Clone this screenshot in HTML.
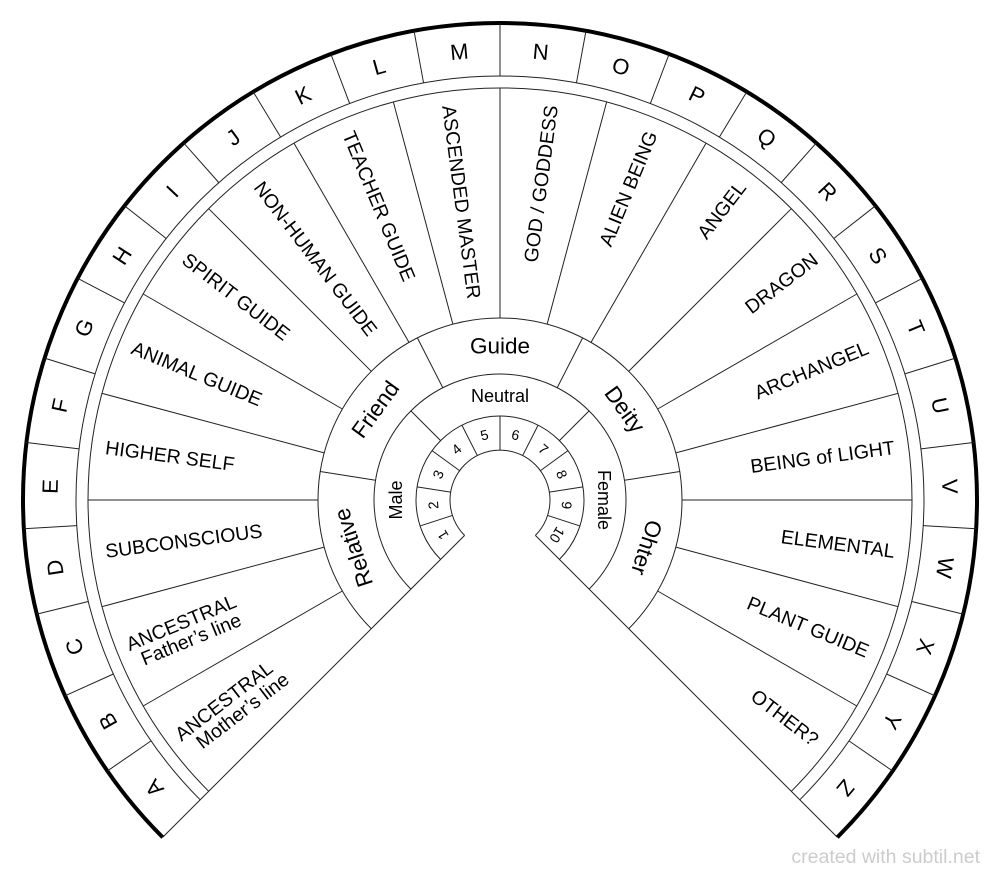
<!DOCTYPE html>
<html><head><meta charset="utf-8"><style>
html,body{margin:0;padding:0;background:#fff;width:1000px;height:877px;overflow:hidden}
svg{display:block}
text{font-family:"Liberation Sans",sans-serif;fill:#000}
</style></head><body>
<svg width="1000" height="877" viewBox="0 0 1000 877" xmlns="http://www.w3.org/2000/svg">
<g fill="none" stroke="#222" stroke-width="1">
<path d="M162.7 837.3 A477 477 0 1 1 837.3 837.3" stroke="#000" stroke-width="4"/>
<path d="M200.2 799.8 A424 424 0 1 1 799.8 799.8"/>
<path d="M208.7 791.3 A412 412 0 1 1 791.3 791.3"/>
<path d="M371.3 628.7 A182 182 0 1 1 628.7 628.7"/>
<path d="M410.9 589.1 A126 126 0 1 1 589.1 589.1"/>
<path d="M440.6 559.4 A84 84 0 1 1 559.4 559.4"/>
<path d="M464.6 535.4 A50 50 0 1 1 535.4 535.4"/>
<line x1="500" y1="450" x2="500" y2="23" transform="rotate(-135 500 500)"/>
<line x1="500" y1="450" x2="500" y2="23" transform="rotate(135 500 500)"/>
<g>
<line x1="500" y1="76" x2="500" y2="23" transform="rotate(-124.615 500 500)"/>
<line x1="500" y1="76" x2="500" y2="23" transform="rotate(-114.231 500 500)"/>
<line x1="500" y1="76" x2="500" y2="23" transform="rotate(-103.846 500 500)"/>
<line x1="500" y1="76" x2="500" y2="23" transform="rotate(-93.462 500 500)"/>
<line x1="500" y1="76" x2="500" y2="23" transform="rotate(-83.077 500 500)"/>
<line x1="500" y1="76" x2="500" y2="23" transform="rotate(-72.692 500 500)"/>
<line x1="500" y1="76" x2="500" y2="23" transform="rotate(-62.308 500 500)"/>
<line x1="500" y1="76" x2="500" y2="23" transform="rotate(-51.923 500 500)"/>
<line x1="500" y1="76" x2="500" y2="23" transform="rotate(-41.538 500 500)"/>
<line x1="500" y1="76" x2="500" y2="23" transform="rotate(-31.154 500 500)"/>
<line x1="500" y1="76" x2="500" y2="23" transform="rotate(-20.769 500 500)"/>
<line x1="500" y1="76" x2="500" y2="23" transform="rotate(-10.385 500 500)"/>
<line x1="500" y1="76" x2="500" y2="23"/>
<line x1="500" y1="76" x2="500" y2="23" transform="rotate(10.385 500 500)"/>
<line x1="500" y1="76" x2="500" y2="23" transform="rotate(20.769 500 500)"/>
<line x1="500" y1="76" x2="500" y2="23" transform="rotate(31.154 500 500)"/>
<line x1="500" y1="76" x2="500" y2="23" transform="rotate(41.538 500 500)"/>
<line x1="500" y1="76" x2="500" y2="23" transform="rotate(51.923 500 500)"/>
<line x1="500" y1="76" x2="500" y2="23" transform="rotate(62.308 500 500)"/>
<line x1="500" y1="76" x2="500" y2="23" transform="rotate(72.692 500 500)"/>
<line x1="500" y1="76" x2="500" y2="23" transform="rotate(83.077 500 500)"/>
<line x1="500" y1="76" x2="500" y2="23" transform="rotate(93.462 500 500)"/>
<line x1="500" y1="76" x2="500" y2="23" transform="rotate(103.846 500 500)"/>
<line x1="500" y1="76" x2="500" y2="23" transform="rotate(114.231 500 500)"/>
<line x1="500" y1="76" x2="500" y2="23" transform="rotate(124.615 500 500)"/>
</g>
<g>
<line x1="500" y1="318" x2="500" y2="88" transform="rotate(-120 500 500)"/>
<line x1="500" y1="318" x2="500" y2="88" transform="rotate(-105 500 500)"/>
<line x1="500" y1="318" x2="500" y2="88" transform="rotate(-90 500 500)"/>
<line x1="500" y1="318" x2="500" y2="88" transform="rotate(-75 500 500)"/>
<line x1="500" y1="318" x2="500" y2="88" transform="rotate(-60 500 500)"/>
<line x1="500" y1="318" x2="500" y2="88" transform="rotate(-45 500 500)"/>
<line x1="500" y1="318" x2="500" y2="88" transform="rotate(-30 500 500)"/>
<line x1="500" y1="318" x2="500" y2="88" transform="rotate(-15 500 500)"/>
<line x1="500" y1="318" x2="500" y2="88"/>
<line x1="500" y1="318" x2="500" y2="88" transform="rotate(15 500 500)"/>
<line x1="500" y1="318" x2="500" y2="88" transform="rotate(30 500 500)"/>
<line x1="500" y1="318" x2="500" y2="88" transform="rotate(45 500 500)"/>
<line x1="500" y1="318" x2="500" y2="88" transform="rotate(60 500 500)"/>
<line x1="500" y1="318" x2="500" y2="88" transform="rotate(75 500 500)"/>
<line x1="500" y1="318" x2="500" y2="88" transform="rotate(90 500 500)"/>
<line x1="500" y1="318" x2="500" y2="88" transform="rotate(105 500 500)"/>
<line x1="500" y1="318" x2="500" y2="88" transform="rotate(120 500 500)"/>
</g>
<line x1="500" y1="374" x2="500" y2="318" transform="rotate(-81 500 500)"/>
<line x1="500" y1="374" x2="500" y2="318" transform="rotate(-27 500 500)"/>
<line x1="500" y1="374" x2="500" y2="318" transform="rotate(27 500 500)"/>
<line x1="500" y1="374" x2="500" y2="318" transform="rotate(81 500 500)"/>
<line x1="500" y1="416" x2="500" y2="374" transform="rotate(-45 500 500)"/>
<line x1="500" y1="416" x2="500" y2="374" transform="rotate(45 500 500)"/>
<g>
<line x1="500" y1="450" x2="500" y2="416" transform="rotate(-108 500 500)"/>
<line x1="500" y1="450" x2="500" y2="416" transform="rotate(-81 500 500)"/>
<line x1="500" y1="450" x2="500" y2="416" transform="rotate(-54 500 500)"/>
<line x1="500" y1="450" x2="500" y2="416" transform="rotate(-27 500 500)"/>
<line x1="500" y1="450" x2="500" y2="416"/>
<line x1="500" y1="450" x2="500" y2="416" transform="rotate(27 500 500)"/>
<line x1="500" y1="450" x2="500" y2="416" transform="rotate(54 500 500)"/>
<line x1="500" y1="450" x2="500" y2="416" transform="rotate(81 500 500)"/>
<line x1="500" y1="450" x2="500" y2="416" transform="rotate(108 500 500)"/>
</g>
</g>

<g font-size="22" text-anchor="middle" dominant-baseline="central">
<text x="500" y="50" transform="rotate(-129.81 500 500)">A</text>
<text x="500" y="50" transform="rotate(-119.42 500 500)">B</text>
<text x="500" y="50" transform="rotate(-109.04 500 500)">C</text>
<text x="500" y="50" transform="rotate(-98.65 500 500)">D</text>
<text x="500" y="50" transform="rotate(-88.27 500 500)">E</text>
<text x="500" y="50" transform="rotate(-77.88 500 500)">F</text>
<text x="500" y="50" transform="rotate(-67.5 500 500)">G</text>
<text x="500" y="50" transform="rotate(-57.12 500 500)">H</text>
<text x="500" y="50" transform="rotate(-46.73 500 500)">I</text>
<text x="500" y="50" transform="rotate(-36.35 500 500)">J</text>
<text x="500" y="50" transform="rotate(-25.96 500 500)">K</text>
<text x="500" y="50" transform="rotate(-15.58 500 500)">L</text>
<text x="500" y="50" transform="rotate(-5.19 500 500)">M</text>
<text x="500" y="50" transform="rotate(5.19 500 500)">N</text>
<text x="500" y="50" transform="rotate(15.58 500 500)">O</text>
<text x="500" y="50" transform="rotate(25.96 500 500)">P</text>
<text x="500" y="50" transform="rotate(36.35 500 500)">Q</text>
<text x="500" y="50" transform="rotate(46.73 500 500)">R</text>
<text x="500" y="50" transform="rotate(57.12 500 500)">S</text>
<text x="500" y="50" transform="rotate(67.5 500 500)">T</text>
<text x="500" y="50" transform="rotate(77.88 500 500)">U</text>
<text x="500" y="50" transform="rotate(88.27 500 500)">V</text>
<text x="500" y="50" transform="rotate(98.65 500 500)">W</text>
<text x="500" y="50" transform="rotate(109.04 500 500)">X</text>
<text x="500" y="50" transform="rotate(119.42 500 500)">Y</text>
<text x="500" y="50" transform="rotate(129.81 500 500)">Z</text>
</g>

<g font-size="19.5" dominant-baseline="central">
<g transform="rotate(-127.5 500 500)"><text x="500" y="100" transform="rotate(90 500 100)" text-anchor="start"><tspan x="500" dy="-8">ANCESTRAL</tspan><tspan x="512" dy="19">Mother’s line</tspan></text></g>
<g transform="rotate(-112.5 500 500)"><text x="500" y="100" transform="rotate(90 500 100)" text-anchor="start"><tspan x="500" dy="-8">ANCESTRAL</tspan><tspan x="508" dy="19">Father’s line</tspan></text></g>
<g transform="rotate(-97.5 500 500)"><text x="500" y="102" transform="rotate(90 500 102)">SUBCONSCIOUS</text></g>
<g transform="rotate(-82.5 500 500)"><text x="500" y="102" transform="rotate(90 500 102)">HIGHER SELF</text></g>
<g transform="rotate(-67.5 500 500)"><text x="500" y="102" transform="rotate(90 500 102)">ANIMAL GUIDE</text></g>
<g transform="rotate(-52.5 500 500)"><text x="500" y="102" transform="rotate(90 500 102)">SPIRIT GUIDE</text></g>
<g transform="rotate(-37.5 500 500)"><text x="500" y="102" transform="rotate(90 500 102)">NON-HUMAN GUIDE</text></g>
<g transform="rotate(-22.5 500 500)"><text x="500" y="102" transform="rotate(90 500 102)">TEACHER GUIDE</text></g>
<g transform="rotate(-7.5 500 500)"><text x="500" y="102" transform="rotate(90 500 102)">ASCENDED MASTER</text></g>
<g transform="rotate(7.5 500 500)"><text x="500" y="102" transform="rotate(-90 500 102)" text-anchor="end">GOD / GODDESS</text></g>
<g transform="rotate(22.5 500 500)"><text x="500" y="102" transform="rotate(-90 500 102)" text-anchor="end">ALIEN BEING</text></g>
<g transform="rotate(37.5 500 500)"><text x="500" y="102" transform="rotate(-90 500 102)" text-anchor="end">ANGEL</text></g>
<g transform="rotate(52.5 500 500)"><text x="500" y="102" transform="rotate(-90 500 102)" text-anchor="end">DRAGON</text></g>
<g transform="rotate(67.5 500 500)"><text x="500" y="102" transform="rotate(-90 500 102)" text-anchor="end">ARCHANGEL</text></g>
<g transform="rotate(82.5 500 500)"><text x="500" y="102" transform="rotate(-90 500 102)" text-anchor="end">BEING of LIGHT</text></g>
<g transform="rotate(97.5 500 500)"><text x="500" y="102" transform="rotate(-90 500 102)" text-anchor="end">ELEMENTAL</text></g>
<g transform="rotate(112.5 500 500)"><text x="500" y="102" transform="rotate(-90 500 102)" text-anchor="end">PLANT GUIDE</text></g>
<g transform="rotate(127.5 500 500)"><text x="500" y="102" transform="rotate(-90 500 102)" text-anchor="end">OTHER?</text></g>
</g>

<g font-size="22.5" text-anchor="middle" dominant-baseline="central">
<text x="500" y="346" transform="rotate(-108 500 500)">Relative</text>
<text x="500" y="346" transform="rotate(-54 500 500)">Friend</text>
<text x="500" y="346">Guide</text>
<text x="500" y="346" transform="rotate(54 500 500)">Deity</text>
<text x="500" y="346" transform="rotate(108 500 500)">Ohter</text>
</g>
<g font-size="18" text-anchor="middle" dominant-baseline="central">
<text x="500" y="396" transform="rotate(-90 500 500)">Male</text>
<text x="500" y="396">Neutral</text>
<text x="500" y="396" transform="rotate(90 500 500)">Female</text>
</g>
<g font-size="14" text-anchor="middle" dominant-baseline="central">
<text x="500" y="433" transform="rotate(-121.5 500 500)">1</text>
<text x="500" y="433" transform="rotate(-94.5 500 500)">2</text>
<text x="500" y="433" transform="rotate(-67.5 500 500)">3</text>
<text x="500" y="433" transform="rotate(-40.5 500 500)">4</text>
<text x="500" y="433" transform="rotate(-13.5 500 500)">5</text>
<text x="500" y="433" transform="rotate(13.5 500 500)">6</text>
<text x="500" y="433" transform="rotate(40.5 500 500)">7</text>
<text x="500" y="433" transform="rotate(67.5 500 500)">8</text>
<text x="500" y="433" transform="rotate(94.5 500 500)">9</text>
<text x="500" y="433" transform="rotate(121.5 500 500)">10</text>
</g>
<text x="980" y="863" font-size="19.5" text-anchor="end" style="fill:#ccc">created with subtil.net</text>
</svg>
</body></html>
